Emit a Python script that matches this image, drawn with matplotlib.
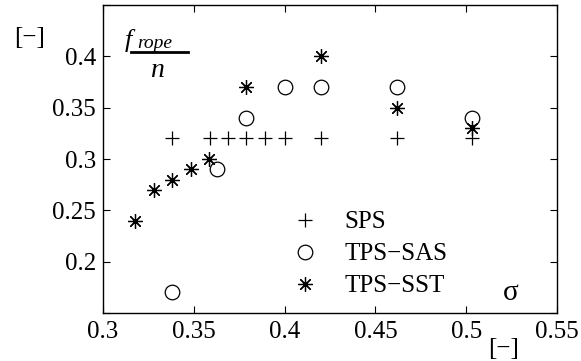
import matplotlib
matplotlib.use("Agg")
import matplotlib.pyplot as plt
from matplotlib.lines import Line2D

plt.rcParams['font.family'] = ['Liberation Serif', 'DejaVu Serif']
plt.rcParams['mathtext.fontset'] = 'stix'

# Data
sps_x = [0.338, 0.359, 0.369, 0.379, 0.389, 0.400, 0.420, 0.462, 0.503]
sps_y = [0.32, 0.32, 0.32, 0.32, 0.32, 0.32, 0.32, 0.32, 0.32]

sas_x = [0.338, 0.3625, 0.379, 0.400, 0.420, 0.462, 0.503]
sas_y = [0.17, 0.29, 0.34, 0.37, 0.37, 0.37, 0.34]

sst_x = [0.3176, 0.328, 0.338, 0.3484, 0.3586, 0.379, 0.420, 0.462, 0.503]
sst_y = [0.24, 0.27, 0.28, 0.29, 0.30, 0.37, 0.40, 0.35, 0.33]

labels = ['SPS', 'TPS\u2212SAS', 'TPS\u2212SST']
xticks = [0.3, 0.35, 0.4, 0.45, 0.5, 0.55]
xticklabels = ['0.3', '0.35', '0.4', '0.45', '0.5', '0.55']
yticks = [0.15, 0.2, 0.25, 0.3, 0.35, 0.4, 0.45]
yticklabels = ['', '0.2', '0.25', '0.3', '0.35', '0.4', '']

W, H = 581, 361
fig = plt.figure(figsize=(W / 100, H / 100), dpi=100)
ax = fig.add_axes([103 / W, 1 - 313 / H, (557 - 103) / W, (313 - 5) / H])

ms = 10.5
ax.plot(sps_x, sps_y, linestyle='none', marker='+', markersize=ms, color='black',
        markeredgewidth=0.9, label=labels[0])
ax.plot(sas_x, sas_y, linestyle='none', marker='o', markersize=ms, markerfacecolor='none',
        markeredgecolor='black', markeredgewidth=0.9, label=labels[1])
ax.plot(sst_x, sst_y, linestyle='none', marker=(8, 2, 0), markersize=ms, color='black',
        markeredgewidth=0.9, label=labels[2])

ax.set_xlim(0.3, 0.55)
ax.set_ylim(0.15, 0.45)
ax.set_xticks(xticks)
ax.set_xticklabels(xticklabels)
ax.set_yticks(yticks)
ax.set_yticklabels(yticklabels)
ax.tick_params(direction='in', top=True, right=True, length=5, width=0.8,
               labelsize=18, pad=6)
ax.tick_params(axis='y', pad=5)
for s in ax.spines.values():
    s.set_linewidth(1.0)

fs = 18
leg = ax.legend(loc='upper left', bbox_to_anchor=(292 / W, 1 - 211 / H),
                bbox_transform=fig.transFigure,
                frameon=False, fontsize=fs, handlelength=1.0, handletextpad=1.1,
                labelspacing=0.38, borderaxespad=0, borderpad=0)

# Annotations
fig.text(30 / W, 1 - 38 / H, '[\u2212]', fontsize=18, ha='center', va='center')
fig.text(504 / W, 1 - 349 / H, '[\u2212]', fontsize=18, ha='center', va='center')
fig.text(511 / W, 1 - 293 / H, '\u03c3', fontsize=21, ha='center', va='center')

# Fraction f_rope / n
fig.text(125 / W, 1 - 47 / H, 'f', fontsize=19, style='italic', ha='left', va='baseline')
fig.text(137 / W, 1 - 48 / H, 'rope', fontsize=14, style='italic', ha='left', va='baseline')
fig.add_artist(Line2D([131 / W, 188 / W], [1 - 52 / H, 1 - 52 / H], color='black',
                      linewidth=2, transform=fig.transFigure))
fig.text(157 / W, 1 - 77 / H, 'n', fontsize=20, style='italic', ha='center', va='baseline')

fig.savefig('out.png', dpi=100)
